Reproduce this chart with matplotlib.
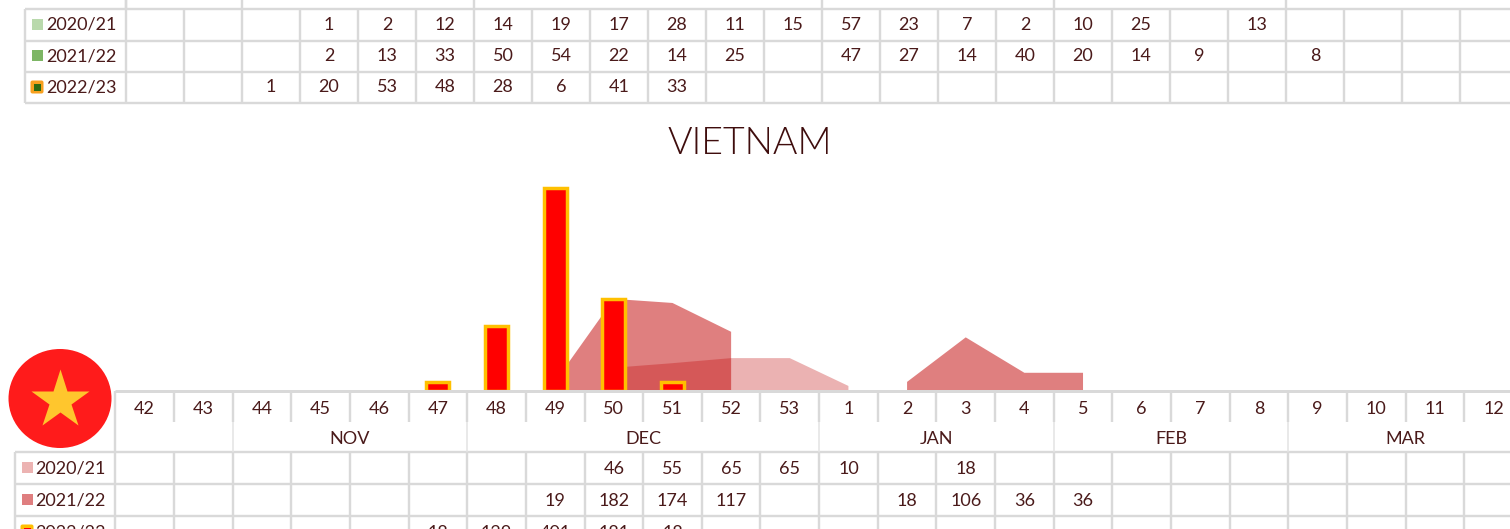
import numpy as np
import matplotlib
matplotlib.use("Agg")
import matplotlib.pyplot as plt
from matplotlib.patches import Ellipse, FancyBboxPatch, Rectangle

nan = np.nan

# lower table / chart
weeks = ["42", "43", "44", "45", "46", "47", "48", "49", "50", "51", "52", "53",
         "1", "2", "3", "4", "5", "6", "7", "8", "9", "10", "11", "12"]
months = ["NOV", "DEC", "JAN", "FEB", "MAR"]
month_spans = [(2, 6), (6, 12), (12, 16), (16, 20), (20, 24)]
seasons = ["2020/21", "2021/22", "2022/23"]
vn_2021 = [nan, nan, nan, nan, nan, nan, nan, nan, 46, 55, 65, 65,
           10, nan, 18, nan, nan, nan, nan, nan, nan, nan, nan, nan]
vn_2122 = [nan, nan, nan, nan, nan, nan, nan, 19, 182, 174, 117, nan,
           nan, 18, 106, 36, 36, nan, nan, nan, nan, nan, nan, nan]
vn_2223 = [nan, nan, nan, nan, nan, 18, 129, 401, 181, 18, nan, nan,
           nan, nan, nan, nan, nan, nan, nan, nan, nan, nan, nan, nan]

# the table of the chart above, only its last rows are in view
top_2021 = [nan, nan, nan, 1, 2, 12, 14, 19, 17, 28, 11, 15, 57, 23, 7, 2, 10, 25, nan, 13,
            nan, nan, nan, nan]
top_2122 = [nan, nan, nan, 2, 13, 33, 50, 54, 22, 14, 25, nan, 47, 27, 14, 40, 20, 14, 9, nan,
            8, nan, nan, nan]
top_2223 = [nan, nan, 1, 20, 53, 48, 28, 6, 41, 33, nan, nan, nan, nan, nan, nan, nan, nan, nan, nan,
            nan, nan, nan, nan]
top_month_cols = [0, 2, 6, 12, 16, 20]

W, H = 1510, 529
GRID = "#d9d9d9"
TXT = "#4a1a1a"
plt.rcParams["font.family"] = ["Lato", "DejaVu Sans"]

fig = plt.figure(figsize=(W / 100, H / 100), dpi=100)

# overlay in pixel coordinates for the tables, sits over the chart
bg = fig.add_axes([0, 0, 1, 1])
bg.set_xlim(0, W)
bg.set_ylim(H, 0)
bg.axis("off")
bg.set_zorder(2)


def hline(y, x0, x1, lw=2.4, color=GRID):
    bg.plot([x0, x1], [y, y], color=color, lw=lw * 0.72, solid_capstyle="butt", zorder=1)


def vline(x, y0, y1, lw=2.4, color=GRID):
    bg.plot([x, x], [y0, y1], color=color, lw=lw * 0.72, solid_capstyle="butt", zorder=1)


def label(x, y, s, size=13.0, ha="center", **kw):
    bg.text(x, y + 1.5, s, fontsize=size, color=TXT, ha=ha, va="center", zorder=5, **kw)


def swatch(x, y, color, inner=None):
    if inner is None:
        bg.add_patch(Rectangle((x, y - 5.5), 11, 11, fc=color, ec="none", zorder=3))
    else:
        bg.add_patch(FancyBboxPatch((x - 0.5, y - 5.5), 11, 11, boxstyle="round,pad=1,rounding_size=2",
                                    fc=inner, ec="none", zorder=3))
        bg.add_patch(Rectangle((x + 2, y - 3), 7, 6.5, fc=color, ec="none", zorder=4))


def fmt(v):
    return "" if np.isnan(v) else str(int(v))


# top table
top_x0, top_step = 126, 58.0
top_rows = [9, 40.5, 72, 103]
for y in top_rows:
    hline(y, 25, W)
vline(25, 9, 103)
vline(126, 0, 103)
for i in range(1, 24):
    vline(top_x0 + i * top_step, 9, 103)
for c in top_month_cols:
    vline(top_x0 + c * top_step, 0, 9)
for row, vals in enumerate([top_2021, top_2122, top_2223]):
    yc = (top_rows[row] + top_rows[row + 1]) / 2 - 1.5
    label(46, yc, seasons[row], ha="left")
    for i, v in enumerate(vals):
        label(top_x0 + (i + 0.5) * top_step, yc, fmt(v))
swatch(32, 24, "#b9d9ac")
swatch(32, 55, "#7db665")
swatch(32, 87, "#2e6b12", inner="#f7a01e")

# title
bg.text(750, 144, "VIETNAM", fontsize=27, color="#3f0d0d", ha="center", va="center", weight=300, zorder=5)

# lower table
low_x0, low_step = 115.3, 58.65
base_y = 391
low_rows = [452, 484, 516]
hline(base_y, low_x0, W, lw=3)
hline(low_rows[0], low_x0, W)
hline(low_rows[1], 15, W)
hline(low_rows[2], 15, W)
hline(low_rows[0], 15, low_x0)
vline(15, 452, H)
vline(low_x0, base_y, H)
for i in range(1, 25):
    x = low_x0 + i * low_step
    vline(x, base_y, 421.5)
    vline(x, low_rows[0], H)
for a, b in month_spans:
    vline(low_x0 + a * low_step, 421.5, low_rows[0], lw=1.5, color="#e3e3e3")
for i, w in enumerate(weeks):
    label(low_x0 + (i + 0.5) * low_step, 407, w)
for m, (a, b) in zip(months, month_spans):
    label(low_x0 + (a + b) / 2 * low_step, 437, m)
low_y = [467, 499, 531]
for row, vals in enumerate([vn_2021, vn_2122, vn_2223]):
    label(35, low_y[row], seasons[row], ha="left")
    for i, v in enumerate(vals):
        label(low_x0 + (i + 0.5) * low_step, low_y[row], fmt(v))
swatch(22, 467, "#ecb3b2")
swatch(22, 499, "#df7e7f")
swatch(22, 531, "#ff0000", inner="#ffc000")

# flag
bg.add_patch(Ellipse((60, 398.5), 103, 99, fc="#ff1b1b", ec="none", zorder=3))
bg.plot([60], [399.5], marker="*", ms=44, mfc="#ffc62d", mec="none", zorder=4)

# chart, x is the week position and y the value
ax = fig.add_axes([low_x0 / W, 1 - base_y / H, (W - low_x0) / W, 215 / H])
ax.axis("off")
ax.set_zorder(1)
ax.set_xlim(-0.5, (W - low_x0) / low_step - 0.5)
ax.set_ylim(0, 215 / 0.506)
pos = np.arange(len(weeks))
ax.fill_between(pos, np.array(vn_2021, dtype=float), 0, color="#c00000", alpha=0.3, lw=0, zorder=2)
ax.fill_between(pos, np.array(vn_2122, dtype=float), 0, color="#c00000", alpha=0.5, lw=0, zorder=3)
ax.bar(pos, vn_2223, width=0.39, fc="#ff0000", ec="#ffc000", lw=2.5, zorder=4)

fig.savefig("out.png", dpi=100)
